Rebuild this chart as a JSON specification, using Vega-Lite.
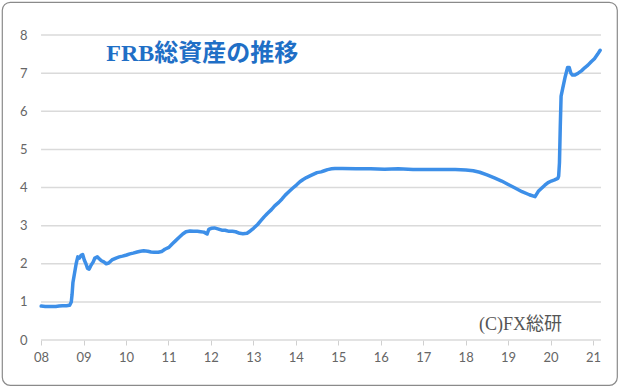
{
  "$schema": "https://vega.github.io/schema/vega-lite/v6.json",
  "width": 615,
  "height": 383,
  "padding": {"left": 2, "top": 2, "right": 3, "bottom": 5},
  "autosize": {"type": "none"},
  "background": "white",
  "config": {"view": {"stroke": "#8a8a8a", "strokeWidth": 1.2, "cornerRadius": 8}},
  "layer": [
    {
      "data": {"values": [{"v": 0}, {"v": 1}, {"v": 2}, {"v": 3}, {"v": 4}, {"v": 5}, {"v": 6}, {"v": 7}, {"v": 8}]},
      "mark": {"type": "rule", "color": "#dadada", "strokeWidth": 1.5},
      "encoding": {
        "y": {
          "field": "v", "type": "quantitative",
          "scale": {"domain": [-1.18, 8.866], "nice": false, "zero": false},
          "axis": {"orient": "left", "offset": -27, "values": [0, 1, 2, 3, 4, 5, 6, 7, 8], "domain": false, "ticks": false, "tickSize": 0, "grid": false, "labelPadding": 2, "labelFont": "Lato", "labelFontSize": 13, "labelColor": "#666666", "title": null}
        },
        "x": {
          "datum": {"year": 2008, "month": 1, "date": 1}, "type": "temporal",
          "scale": {"domain": [{"year": 2007, "month": 1, "date": 30}, {"year": 2021, "month": 7, "date": 26}], "nice": false},
          "axis": {"orient": "bottom", "offset": -45, "format": "%y", "tickCount": {"interval": "year", "step": 1}, "domain": false, "grid": false, "ticks": true, "tickSize": 5, "tickColor": "#d0d0d0", "labelFont": "Lato", "labelFontSize": 13, "labelColor": "#666666", "labelPadding": 6, "labelFlush": false, "labelOverlap": false, "title": null}
        },
        "x2": {"datum": {"year": 2021, "month": 3, "date": 10}}
      }
    },
    {
      "data": {"values": [
        {"date": "2008-01-02", "value": 0.89},
        {"date": "2008-02-06", "value": 0.88},
        {"date": "2008-03-05", "value": 0.88},
        {"date": "2008-04-02", "value": 0.88},
        {"date": "2008-05-07", "value": 0.88},
        {"date": "2008-06-04", "value": 0.89},
        {"date": "2008-07-02", "value": 0.9},
        {"date": "2008-08-06", "value": 0.9},
        {"date": "2008-09-03", "value": 0.91},
        {"date": "2008-09-17", "value": 1.0},
        {"date": "2008-09-24", "value": 1.2},
        {"date": "2008-10-01", "value": 1.5},
        {"date": "2008-10-15", "value": 1.75},
        {"date": "2008-10-29", "value": 2.0},
        {"date": "2008-11-12", "value": 2.18},
        {"date": "2008-11-26", "value": 2.15},
        {"date": "2008-12-10", "value": 2.22},
        {"date": "2008-12-24", "value": 2.24},
        {"date": "2009-01-07", "value": 2.1},
        {"date": "2009-01-21", "value": 2.0},
        {"date": "2009-02-04", "value": 1.88},
        {"date": "2009-02-18", "value": 1.86},
        {"date": "2009-03-04", "value": 1.95},
        {"date": "2009-03-25", "value": 2.05},
        {"date": "2009-04-08", "value": 2.15},
        {"date": "2009-04-29", "value": 2.18},
        {"date": "2009-05-13", "value": 2.14},
        {"date": "2009-06-03", "value": 2.08},
        {"date": "2009-06-24", "value": 2.05},
        {"date": "2009-07-15", "value": 2.0},
        {"date": "2009-08-05", "value": 2.02},
        {"date": "2009-09-02", "value": 2.1},
        {"date": "2009-10-07", "value": 2.15},
        {"date": "2009-11-04", "value": 2.18},
        {"date": "2009-12-02", "value": 2.2},
        {"date": "2010-01-06", "value": 2.23},
        {"date": "2010-02-03", "value": 2.26},
        {"date": "2010-03-03", "value": 2.28},
        {"date": "2010-04-07", "value": 2.31},
        {"date": "2010-05-05", "value": 2.33},
        {"date": "2010-06-02", "value": 2.34},
        {"date": "2010-07-07", "value": 2.33},
        {"date": "2010-08-04", "value": 2.31},
        {"date": "2010-09-01", "value": 2.3},
        {"date": "2010-10-06", "value": 2.3},
        {"date": "2010-11-03", "value": 2.32},
        {"date": "2010-12-01", "value": 2.38},
        {"date": "2011-01-05", "value": 2.43},
        {"date": "2011-02-02", "value": 2.52},
        {"date": "2011-03-02", "value": 2.6},
        {"date": "2011-04-06", "value": 2.7},
        {"date": "2011-05-04", "value": 2.78},
        {"date": "2011-06-01", "value": 2.84},
        {"date": "2011-07-06", "value": 2.86},
        {"date": "2011-08-03", "value": 2.85},
        {"date": "2011-09-07", "value": 2.85},
        {"date": "2011-10-05", "value": 2.84},
        {"date": "2011-11-02", "value": 2.83},
        {"date": "2011-11-30", "value": 2.78},
        {"date": "2011-12-14", "value": 2.9},
        {"date": "2012-01-04", "value": 2.93},
        {"date": "2012-02-01", "value": 2.94},
        {"date": "2012-03-07", "value": 2.91},
        {"date": "2012-04-04", "value": 2.88},
        {"date": "2012-05-02", "value": 2.88},
        {"date": "2012-06-06", "value": 2.85},
        {"date": "2012-07-04", "value": 2.85},
        {"date": "2012-08-01", "value": 2.84},
        {"date": "2012-09-05", "value": 2.8},
        {"date": "2012-10-03", "value": 2.79},
        {"date": "2012-11-07", "value": 2.8},
        {"date": "2012-12-05", "value": 2.86},
        {"date": "2013-01-02", "value": 2.93},
        {"date": "2013-02-06", "value": 3.03},
        {"date": "2013-03-06", "value": 3.13},
        {"date": "2013-04-03", "value": 3.23},
        {"date": "2013-05-01", "value": 3.32},
        {"date": "2013-06-05", "value": 3.42},
        {"date": "2013-07-03", "value": 3.52},
        {"date": "2013-08-07", "value": 3.61},
        {"date": "2013-09-04", "value": 3.7},
        {"date": "2013-10-02", "value": 3.8},
        {"date": "2013-11-06", "value": 3.9},
        {"date": "2013-12-04", "value": 3.98},
        {"date": "2014-01-08", "value": 4.07},
        {"date": "2014-02-05", "value": 4.15},
        {"date": "2014-03-05", "value": 4.21},
        {"date": "2014-04-02", "value": 4.26},
        {"date": "2014-05-07", "value": 4.31},
        {"date": "2014-06-04", "value": 4.35},
        {"date": "2014-07-02", "value": 4.39},
        {"date": "2014-08-06", "value": 4.41},
        {"date": "2014-09-03", "value": 4.44},
        {"date": "2014-10-01", "value": 4.47},
        {"date": "2014-11-05", "value": 4.49},
        {"date": "2014-12-03", "value": 4.5},
        {"date": "2015-02-04", "value": 4.5},
        {"date": "2015-06-03", "value": 4.49},
        {"date": "2015-10-07", "value": 4.49},
        {"date": "2016-02-03", "value": 4.48},
        {"date": "2016-06-01", "value": 4.49},
        {"date": "2016-10-05", "value": 4.47},
        {"date": "2017-02-01", "value": 4.47},
        {"date": "2017-06-07", "value": 4.47},
        {"date": "2017-10-04", "value": 4.47},
        {"date": "2018-01-03", "value": 4.46},
        {"date": "2018-03-07", "value": 4.44},
        {"date": "2018-05-02", "value": 4.4},
        {"date": "2018-07-04", "value": 4.33},
        {"date": "2018-09-05", "value": 4.25},
        {"date": "2018-11-07", "value": 4.17},
        {"date": "2019-01-02", "value": 4.08},
        {"date": "2019-03-06", "value": 3.98},
        {"date": "2019-05-01", "value": 3.89},
        {"date": "2019-07-03", "value": 3.81},
        {"date": "2019-08-21", "value": 3.76},
        {"date": "2019-09-18", "value": 3.9},
        {"date": "2019-10-16", "value": 3.98},
        {"date": "2019-11-13", "value": 4.06},
        {"date": "2019-12-11", "value": 4.13},
        {"date": "2020-01-08", "value": 4.17},
        {"date": "2020-02-05", "value": 4.2},
        {"date": "2020-03-04", "value": 4.24},
        {"date": "2020-03-11", "value": 4.3},
        {"date": "2020-03-18", "value": 4.65},
        {"date": "2020-03-25", "value": 5.6},
        {"date": "2020-04-01", "value": 6.4},
        {"date": "2020-04-15", "value": 6.6},
        {"date": "2020-05-06", "value": 6.9},
        {"date": "2020-05-27", "value": 7.15},
        {"date": "2020-06-10", "value": 7.15},
        {"date": "2020-06-24", "value": 7.0},
        {"date": "2020-07-08", "value": 6.95},
        {"date": "2020-07-29", "value": 6.95},
        {"date": "2020-08-26", "value": 7.0},
        {"date": "2020-09-23", "value": 7.06},
        {"date": "2020-10-21", "value": 7.14},
        {"date": "2020-11-18", "value": 7.21},
        {"date": "2020-12-16", "value": 7.3},
        {"date": "2021-01-13", "value": 7.38},
        {"date": "2021-02-10", "value": 7.5},
        {"date": "2021-03-03", "value": 7.6}
      ]},
      "mark": {"type": "line", "color": "#3d8fe8", "strokeWidth": 3.5, "strokeJoin": "round", "strokeCap": "round"},
      "encoding": {
        "x": {"field": "date", "type": "temporal"},
        "y": {"field": "value", "type": "quantitative"}
      }
    },
    {
      "data": {"values": [{"label": "FRB総資産の推移"}]},
      "mark": {"type": "text", "align": "left", "baseline": "middle", "font": "Liberation Serif, Noto Sans CJK JP", "fontWeight": "bold", "fontSize": 24, "color": "#1f6fc6"},
      "encoding": {
        "x": {"datum": {"year": 2009, "month": 7, "date": 15}, "type": "temporal"},
        "y": {"datum": 7.5, "type": "quantitative"},
        "text": {"field": "label"}
      }
    },
    {
      "data": {"values": [{"label": "(C)FX総研"}]},
      "mark": {"type": "text", "align": "left", "baseline": "middle", "font": "Liberation Serif, Noto Sans CJK JP", "fontSize": 18, "color": "#555555"},
      "encoding": {
        "x": {"datum": {"year": 2018, "month": 4, "date": 25}, "type": "temporal"},
        "y": {"datum": 0.39, "type": "quantitative"},
        "text": {"field": "label"}
      }
    }
  ]
}
